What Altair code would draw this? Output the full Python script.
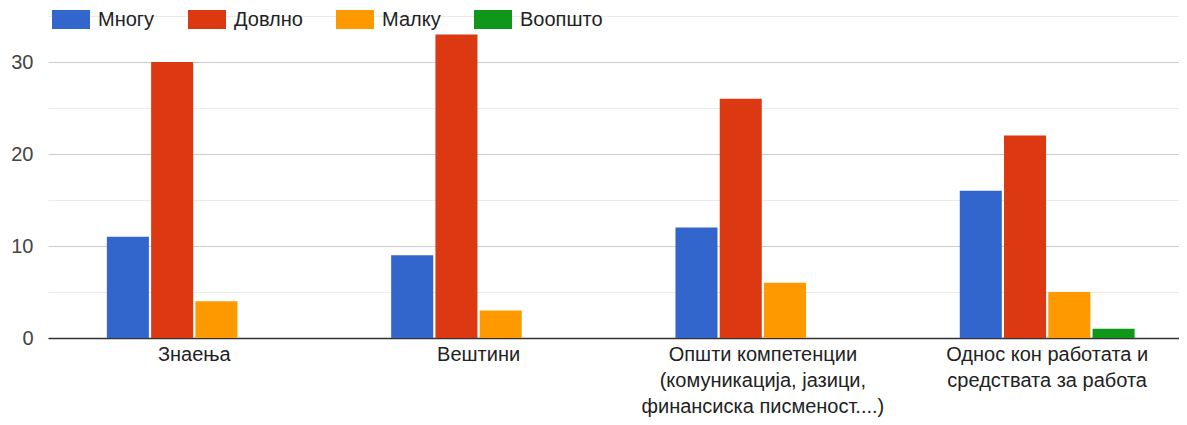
import altair as alt
import pandas as pd

categories = [
    "Знаења",
    "Вештини",
    "Општи компетенции|(комуникација, јазици,|финансиска писменост....)",
    "Однос кон работата и|средствата за работа",
]
series = ["Многу", "Довлно", "Малку", "Воопшто"]
mnogu = [11, 9, 12, 16]
dovolno = [30, 33, 26, 22]
malku = [4, 3, 6, 5]
voopshto = [0, 0, 0, 1]
colors = ["#3366CC", "#DC3912", "#FF9900", "#109618"]
y_ticks = [0, 5, 10, 15, 20, 25, 30, 35]

rows = []
for s, vals in zip(series, [mnogu, dovolno, malku, voopshto]):
    for c, v in zip(categories, vals):
        rows.append({"cat": c, "series": s, "value": v})
df = pd.DataFrame(rows)

chart = alt.Chart(df).mark_bar().encode(
    x=alt.X(
        "cat:N",
        sort=categories,
        scale=alt.Scale(paddingInner=0.385, paddingOuter=0.1816, align=0.57),
        axis=alt.Axis(
            title=None,
            labelExpr="split(datum.label, '|')",
            labelAngle=0,
            labelFontSize=20,
            labelLineHeight=26,
            labelColor="#222222",
            labelPadding=6,
            labelLimit=0,
            labelOverlap=False,
            ticks=False,
            domainColor="#333333",
            domainWidth=1.5,
        ),
    ),
    xOffset=alt.XOffset("series:N", sort=series, scale=alt.Scale(paddingInner=0.05)),
    y=alt.Y(
        "value:Q",
        scale=alt.Scale(domain=[0, 35], nice=False),
        axis=alt.Axis(
            title=None,
            values=y_ticks,
            labelExpr="datum.value % 10 === 0 ? datum.label : ''",
            gridColor={"condition": {"test": "datum.value % 10 === 0", "value": "#cccccc"}, "value": "#ebebeb"},
            domain=False,
            ticks=False,
            labelPadding=15,
            labelFontSize=20,
            labelColor="#444444",
        ),
    ),
    color=alt.Color(
        "series:N",
        sort=series,
        scale=alt.Scale(domain=series, range=colors),
        legend=alt.Legend(
            orient="none",
            legendX=4,
            legendY=-15.5,
            direction="horizontal",
            title=None,
            symbolType="M-1,-0.5H1V0.5H-1Z",
            symbolSize=1444,
            symbolStrokeWidth=0,
            symbolOpacity=1,
            labelFontSize=20,
            labelColor="#222222",
            labelOffset=8,
            columnPadding=33,
        ),
    ),
).properties(
    width=1131,
    height=322,
    autosize=alt.AutoSizeParams(type="none"),
    padding={"left": 40, "top": 8, "right": 0, "bottom": 85},
).configure(
    font="Liberation Sans",
).configure_view(
    stroke=None,
)

chart.save("out.html", embed_options={"renderer": "svg", "actions": False})
